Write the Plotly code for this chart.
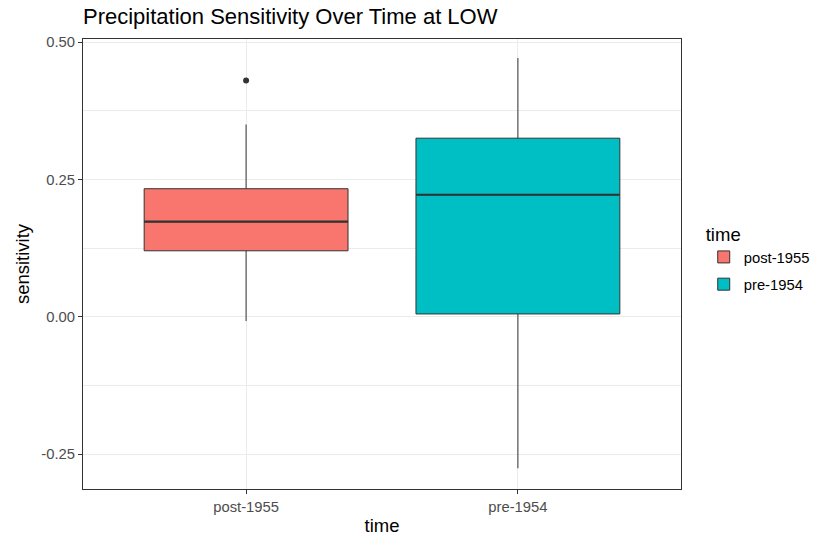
import plotly.graph_objects as go

# Summary statistics of precipitation sensitivity per period
categories = ["post-1955", "pre-1954"]
q1 = [0.120, 0.005]
median = [0.173, 0.222]
q3 = [0.233, 0.325]
lower_whisker = [-0.008, -0.276]
upper_whisker = [0.350, 0.471]
outlier_cat = ["post-1955"]
outlier_val = [0.430]

y_tickvals = [-0.25, 0.0, 0.25, 0.50]
y_ticktext = ["-0.25", "0.00", "0.25", "0.50"]

fills = ["#F8766D", "#00BFC4"]
edge = "#333333"
box_width = 0.75
positions = list(range(len(categories)))
font_family = "Liberation Sans, Arial"

fig = go.Figure()

for i, cat in enumerate(categories):
    fig.add_trace(go.Box(
        x=[positions[i]],
        q1=[q1[i]], median=[median[i]], q3=[q3[i]],
        lowerfence=[lower_whisker[i]], upperfence=[upper_whisker[i]],
        name=cat, legendgroup=cat, width=box_width, whiskerwidth=0,
        fillcolor=fills[i], line=dict(color=edge, width=1),
        boxpoints=False, hoverinfo="skip",
    ))

# Thicker median bars, as in ggplot's fattened middle line
for i, cat in enumerate(categories):
    fig.add_trace(go.Scatter(
        x=[positions[i] - box_width / 2, positions[i] + box_width / 2],
        y=[median[i], median[i]], mode="lines",
        line=dict(color=edge, width=2.2), showlegend=False, hoverinfo="skip",
    ))

# Outlying observations
fig.add_trace(go.Scatter(
    x=[positions[categories.index(c)] for c in outlier_cat], y=outlier_val,
    mode="markers", marker=dict(color=edge, size=6), showlegend=False,
    hoverinfo="skip",
))

axis_common = dict(
    showline=True, mirror=True, linecolor=edge, linewidth=1,
    ticks="outside", ticklen=4, tickcolor=edge, tickwidth=1,
    gridcolor="#EBEBEB", gridwidth=1, zeroline=False,
    tickfont=dict(family=font_family, size=14.8, color="#4D4D4D"),
)

fig.update_layout(
    width=817, height=546,
    margin=dict(l=83, r=136, t=39, b=57, autoexpand=False),
    paper_bgcolor="white", plot_bgcolor="white",
    boxmode="overlay",
    font=dict(family=font_family, color="black"),
    title=dict(
        text="Precipitation Sensitivity Over Time at LOW",
        x=83 / 817, xref="container", xanchor="left",
        y=1 - 16 / 546, yref="container", yanchor="middle",
        font=dict(size=22, color="black"),
    ),
    xaxis=dict(
        **axis_common,
        tickmode="array", tickvals=positions, ticktext=categories,
        range=[-0.6, len(categories) - 0.4],
        title=dict(text="time", font=dict(size=18.5, color="black"), standoff=5),
    ),
    yaxis=dict(
        **axis_common,
        range=[-0.3137, 0.5056],
        tickmode="array", tickvals=y_tickvals, ticktext=y_ticktext,
        minor=dict(dtick=0.125, tick0=0, showgrid=True, gridcolor="#EBEBEB",
                   gridwidth=0.6, ticks=""),
        title=dict(text="sensitivity", font=dict(size=18.5, color="black"), standoff=6),
    ),
    legend=dict(
        title=dict(text="time", font=dict(size=18.5, color="black")),
        x=1.038, xanchor="left", y=0.605, yanchor="top",
        font=dict(size=14.8, color="black"),
        bgcolor="rgba(0,0,0,0)", tracegroupgap=5,
    ),
)

fig.write_html("out.html")
